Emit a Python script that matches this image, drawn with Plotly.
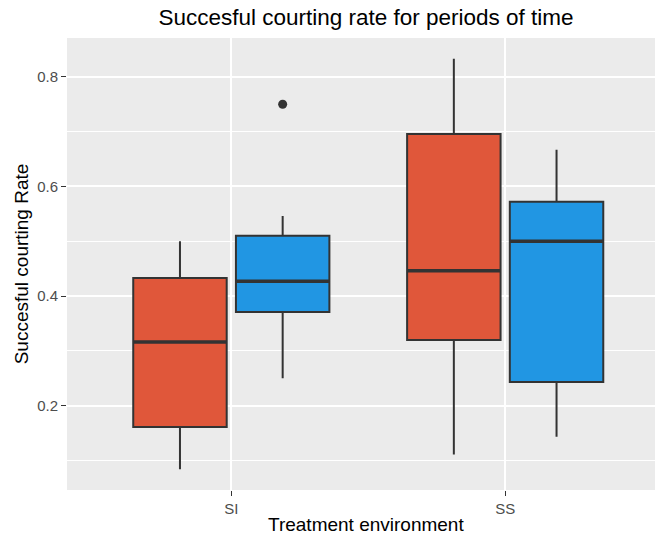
import plotly.graph_objects as go

categories = ["SI", "SS"]

# Red series stats
red_lower = [0.084, 0.111]
red_q1 = [0.161, 0.320]
red_median = [0.316, 0.446]
red_q3 = [0.433, 0.696]
red_upper = [0.500, 0.833]

# Blue series stats
blue_lower = [0.250, 0.143]
blue_q1 = [0.371, 0.243]
blue_median = [0.427, 0.500]
blue_q3 = [0.510, 0.572]
blue_upper = [0.546, 0.667]
blue_outliers = [[0.75], []]

y_ticks = [0.2, 0.4, 0.6, 0.8]

RED = "#E0573A"
BLUE = "#2196E3"
EDGE = "#333333"

fig = go.Figure()
series = [
    ("red", RED, red_lower, red_q1, red_median, red_q3, red_upper, None),
    ("blue", BLUE, blue_lower, blue_q1, blue_median, blue_q3, blue_upper, blue_outliers),
]
for name, col, lo, q1, med, q3, up, outl in series:
    kw = dict(y=outl, boxpoints="outliers") if outl is not None else dict(boxpoints=False)
    fig.add_trace(go.Box(
        x=categories,
        q1=q1, median=med, q3=q3, lowerfence=lo, upperfence=up,
        name=name, fillcolor=col, offsetgroup=name,
        line=dict(color=EDGE, width=2),
        marker=dict(color=EDGE, size=9, outliercolor=EDGE),
        whiskerwidth=0, showlegend=False, hoverinfo="skip", **kw,
    ))
# thicker median bars (ggplot style), drawn from the median values
for name, col, lo, q1, med, q3, up, outl in series:
    fig.add_trace(go.Box(
        x=categories,
        q1=med, median=med, q3=med, lowerfence=med, upperfence=med,
        name=name + " median", fillcolor=EDGE, offsetgroup=name,
        line=dict(color=EDGE, width=3.5),
        boxpoints=False, whiskerwidth=0, showlegend=False, hoverinfo="skip",
    ))

fig.update_layout(
    width=655, height=538,
    margin=dict(l=67, r=0, t=38, b=48, autoexpand=False),
    paper_bgcolor="white", plot_bgcolor="#EBEBEB",
    boxmode="group", boxgap=0.25, boxgroupgap=0.09,
    font=dict(family="Liberation Sans, Arial, sans-serif"),
    title=dict(text="Succesful courting rate for periods of time",
               x=366 / 655, xanchor="center", xref="container",
               y=1 - 17 / 538, yanchor="middle", yref="container",
               font=dict(size=22.5, color="black")),
    showlegend=False,
    annotations=[dict(text="Treatment environment", xref="paper", yref="paper",
                      x=(366 - 67) / 588, y=-(524 - 490) / 452,
                      xanchor="center", yanchor="middle", showarrow=False,
                      font=dict(size=19, color="black"))],
)
fig.update_xaxes(
    type="category", range=[-0.6, 1.547], automargin=False,
    showgrid=True, gridcolor="white", gridwidth=1.5,
    ticks="outside", ticklen=5, tickcolor=EDGE, tickwidth=1.3,
    tickfont=dict(size=15, color="#4D4D4D"),
    zeroline=False, showline=False,
)
fig.update_yaxes(
    range=[0.046, 0.871], tickvals=y_ticks, ticktext=[f"{v:.1f}" for v in y_ticks],
    automargin=False,
    showgrid=True, gridcolor="white", gridwidth=1.5,
    minor=dict(tickvals=[0.1, 0.3, 0.5, 0.7], showgrid=True, gridcolor="white", gridwidth=0.8),
    ticks="outside", ticklen=5, tickcolor=EDGE, tickwidth=1.3,
    tickfont=dict(size=15, color="#4D4D4D"),
    title=dict(text="Succesful courting Rate", font=dict(size=19, color="black"), standoff=3),
    zeroline=False, showline=False,
)

fig.write_html("out.html", config={"displayModeBar": False},
               post_script="document.body.style.margin='0';document.body.style.overflow='hidden';")
